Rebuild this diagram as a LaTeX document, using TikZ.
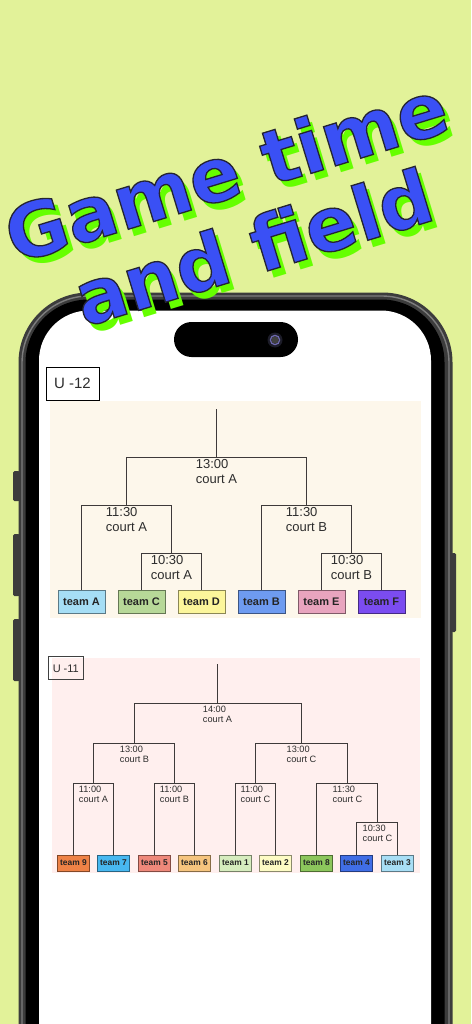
\documentclass[tikz,border=0pt]{standalone}
\usepackage{fontspec}
\setmainfont{Liberation Sans}
\newfontfamily\titlefont{DejaVu Sans}
\newcommand{\outlinedtext}[1]{\special{pdf:literal direct 2 Tr 1.3 w 0.14 0.14 0.2 RG}#1\special{pdf:literal direct 0 Tr}}
\definecolor{bgc}{RGB}{226,242,153}
\definecolor{framegray}{RGB}{60,60,60}
\definecolor{edgegray}{RGB}{125,125,125}
\definecolor{creamc}{RGB}{253,247,235}
\definecolor{pinkc}{RGB}{255,239,238}
\definecolor{linec}{RGB}{62,58,58}
\definecolor{labc}{RGB}{45,45,45}
\definecolor{titleblue}{RGB}{58,80,245}
\definecolor{titlegreen}{RGB}{102,255,0}
\definecolor{camdark}{RGB}{28,28,40}
\definecolor{camring}{RGB}{110,105,175}
\definecolor{cA}{RGB}{166,222,245}
\definecolor{cC}{RGB}{183,216,152}
\definecolor{cD}{RGB}{252,246,155}
\definecolor{cB}{RGB}{110,155,240}
\definecolor{cE}{RGB}{232,164,190}
\definecolor{cF}{RGB}{123,76,240}
\definecolor{cNine}{RGB}{238,130,70}
\definecolor{cSeven}{RGB}{72,184,240}
\definecolor{cFive}{RGB}{238,136,122}
\definecolor{cSix}{RGB}{245,196,126}
\definecolor{cOne}{RGB}{214,236,190}
\definecolor{cTwo}{RGB}{253,251,196}
\definecolor{cEight}{RGB}{140,198,92}
\definecolor{cFour}{RGB}{64,110,230}
\definecolor{cThree}{RGB}{168,222,245}
\tikzset{
  ln/.style={draw=linec, line width=1.45pt},
  lnsmall/.style={draw=linec, line width=1.3pt},
  lblbig/.style={anchor=north, inner sep=0pt, align=left, text=labc, font=\fontsize{13}{15}\selectfont},
  lblsmall/.style={anchor=north, inner sep=0pt, align=left, text=labc, font=\fontsize{9.2}{10.3}\selectfont},
  teambig/.style={fill=#1, draw=#1!55!black, line width=0.8pt, minimum width=47pt, minimum height=23pt, inner sep=0pt, text=labc!80!black, font=\bfseries\fontsize{11}{11}\selectfont},
  teamsmall/.style={fill=#1, draw=#1!55!black, line width=0.7pt, minimum width=32pt, minimum height=16pt, inner sep=0pt, text=labc!80!black, font=\bfseries\fontsize{8.4}{8.4}\selectfont},
  titletext/.style={anchor=base, inner sep=0pt, rotate=17, text=titleblue, font=\titlefont\bfseries\fontsize{75}{75}\selectfont},
  titleshadow/.style={anchor=base, inner sep=0pt, rotate=17, text=titlegreen, font=\titlefont\bfseries\fontsize{75}{75}\selectfont},
}
\begin{document}
\begin{tikzpicture}[x=1pt,y=-1pt]
\useasboundingbox (0,0) rectangle (471,1024);
\clip (0,0) rectangle (471,1024);
\fill[bgc] (0,0) rectangle (471,1024);
% side buttons
\fill[framegray, rounded corners=1.5pt] (13,471) rectangle (20,501);
\fill[framegray, rounded corners=1.5pt] (13,534) rectangle (20,596);
\fill[framegray, rounded corners=1.5pt] (13,619) rectangle (20,681);
\fill[framegray, rounded corners=1.5pt] (451,553) rectangle (456,632);
% phone body
\fill[framegray, rounded corners=70pt] (18.5,292.5) rectangle (452.5,1120);
\draw[edgegray, line width=1.4pt, rounded corners=67pt] (22,296) rectangle (449,1120);
\fill[black, rounded corners=63pt] (25.5,299.5) rectangle (444.5,1120);
\fill[white, rounded corners=50pt] (39,310.5) rectangle (431,1120);
% dynamic island
\fill[black, rounded corners=17.5pt] (174,322) rectangle (298,357);
\fill[camdark] (275,340) circle (7.5pt);
\draw[camring, line width=1.3pt] (275,340) circle (4.6pt);
\fill[black!75] (275,340) circle (3.7pt);
% U-12 section
\fill[creamc] (50,401) rectangle (421,618);
\node[draw=black, line width=1pt, fill=white, minimum width=53pt, minimum height=33pt, inner sep=0pt, font=\fontsize{15}{15}\selectfont, text=labc] (u12) at (72.5,383.5) {U -12};
\node[teambig=cA] (tA) at (81.5,602.2) {team A};
\node[teambig=cC] (tC) at (141.5,602.2) {team C};
\node[teambig=cD] (tD) at (201.5,602.2) {team D};
\node[teambig=cB] (tB) at (261.5,602.2) {team B};
\node[teambig=cE] (tE) at (321.5,602.2) {team E};
\node[teambig=cF] (tF) at (381.5,602.2) {team F};
\coordinate (r12) at (216.5,409);
\coordinate (m13) at (216.5,457.5);
\coordinate (m11a) at (126.5,505.5);
\coordinate (m11b) at (306.5,505.5);
\coordinate (m10a) at (171.5,553.5);
\coordinate (m10b) at (351.5,553.5);
\draw[ln] (r12) -- (m13);
\draw[ln] (m11a) |- (m13) -| (m11b);
\draw[ln] (tA.north) |- (m11a) -| (m10a);
\draw[ln] (tC.north) |- (m10a) -| (tD.north);
\draw[ln] (tB.north) |- (m11b) -| (m10b);
\draw[ln] (tE.north) |- (m10b) -| (tF.north);
\node[lblbig] (l13) at (216.5,459.5) {13:00\\court A};
\node[lblbig] (l11a) at (126.5,507.5) {11:30\\court A};
\node[lblbig] (l11b) at (306.5,507.5) {11:30\\court B};
\node[lblbig] (l10a) at (171.5,555.5) {10:30\\court A};
\node[lblbig] (l10b) at (351.5,555.5) {10:30\\court B};
% U-11 section
\fill[pinkc] (51.7,658.3) rectangle (420,873.3);
\node[draw=black!75, line width=1pt, minimum width=35pt, minimum height=23.3pt, inner sep=0pt, font=\fontsize{11}{11}\selectfont, text=labc] (u11) at (65.8,668.3) {U -11};
\node[teamsmall=cNine] (t9) at (73.5,863) {team 9};
\node[teamsmall=cSeven] (t7) at (113.5,863) {team 7};
\node[teamsmall=cFive] (t5) at (154.5,863) {team 5};
\node[teamsmall=cSix] (t6) at (194.5,863) {team 6};
\node[teamsmall=cOne] (t1) at (235.5,863) {team 1};
\node[teamsmall=cTwo] (t2) at (275.5,863) {team 2};
\node[teamsmall=cEight] (t8) at (316.5,863) {team 8};
\node[teamsmall=cFour] (t4) at (356.5,863) {team 4};
\node[teamsmall=cThree] (t3) at (397.5,863) {team 3};
\coordinate (r11) at (217.5,664);
\coordinate (m14) at (217.5,703.5);
\coordinate (m13B) at (134.5,743.5);
\coordinate (m13C) at (301.5,743.5);
\coordinate (mA) at (93.5,783.5);
\coordinate (mB) at (174.5,783.5);
\coordinate (mC) at (255.5,783.5);
\coordinate (m1130) at (347.5,783.5);
\coordinate (m1030) at (377.5,822.5);
\draw[lnsmall] (r11) -- (m14);
\draw[lnsmall] (m13B) |- (m14) -| (m13C);
\draw[lnsmall] (mA) |- (m13B) -| (mB);
\draw[lnsmall] (mC) |- (m13C) -| (m1130);
\draw[lnsmall] (t9.north) |- (mA) -| (t7.north);
\draw[lnsmall] (t5.north) |- (mB) -| (t6.north);
\draw[lnsmall] (t1.north) |- (mC) -| (t2.north);
\draw[lnsmall] (t8.north) |- (m1130) -| (m1030);
\draw[lnsmall] (t4.north) |- (m1030) -| (t3.north);
\node[lblsmall] (l14) at (217.5,705.5) {14:00\\court A};
\node[lblsmall] (l13B) at (134.5,745.5) {13:00\\court B};
\node[lblsmall] (l13C) at (301.5,745.5) {13:00\\court C};
\node[lblsmall] (lA) at (93.5,785.5) {11:00\\court A};
\node[lblsmall] (lB) at (174.5,785.5) {11:00\\court B};
\node[lblsmall] (lC) at (255.5,785.5) {11:00\\court C};
\node[lblsmall] (l1130) at (347.5,785.5) {11:30\\court C};
\node[lblsmall] (l1030) at (377.5,824.5) {10:30\\court C};
% title
\node[titleshadow] (g1s) at (240,204) {Game time};
\node[titleshadow] (g2s) at (267,280) {and field};
\node[titletext] (g1) at (234,197) {\outlinedtext{Game time}};
\node[titletext] (g2) at (261,273) {\outlinedtext{and field}};
\end{tikzpicture}
\end{document}
